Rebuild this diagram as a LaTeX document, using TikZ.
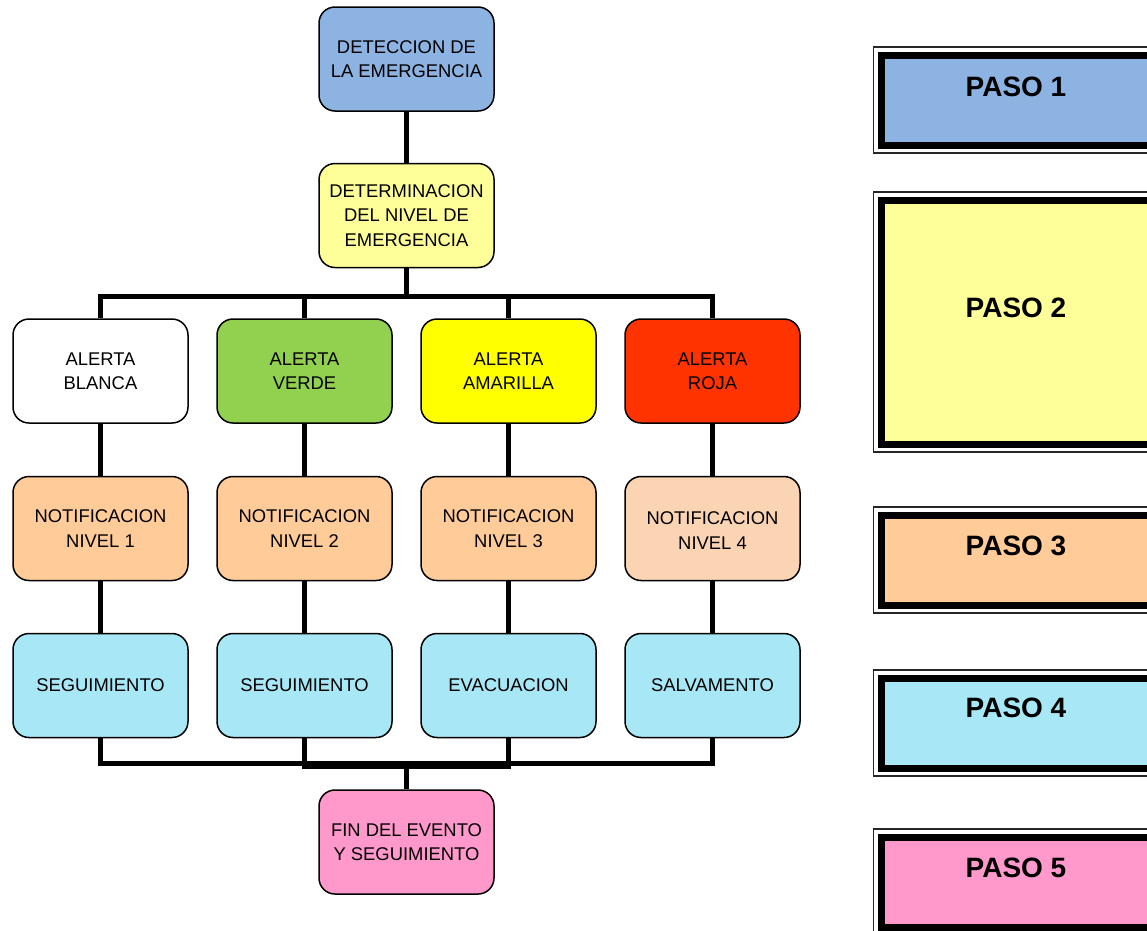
\documentclass[tikz,border=0pt]{standalone}
\usepackage{fontspec}
\setmainfont{Liberation Sans}
\definecolor{cDet}{HTML}{8DB3E2}
\definecolor{cNiv}{HTML}{FFFF99}
\definecolor{cVer}{HTML}{92D050}
\definecolor{cAma}{HTML}{FFFF00}
\definecolor{cRoj}{HTML}{FF3300}
\definecolor{cNot}{HTML}{FFCC99}
\definecolor{cNotb}{HTML}{FBD4B4}
\definecolor{cSeg}{HTML}{A8E8F6}
\definecolor{cFin}{HTML}{FF99CC}
\begin{document}
\begin{tikzpicture}[x=1pt,y=-1pt,
  box/.style={draw=black, line width=1.5pt, rounded corners=16pt,
    minimum width=175pt, minimum height=104pt, inner sep=0pt,
    align=center, font=\fontsize{18.4}{24.5}\selectfont},
  conn/.style={draw=black, line width=5pt},
  pasoframe/.style={draw=black!85, line width=1.2pt},
  pasofill/.style={draw=black, line width=7pt},
  pasotext/.style={font=\fontsize{28}{32}\selectfont\bfseries, inner sep=0pt}]
\useasboundingbox (0,0) rectangle (1147,930);
\clip (0,0) rectangle (1147,930);

% flowchart nodes
\node[box, fill=cDet] (det) at (406.5,59) {DETECCION DE\\LA EMERGENCIA};
\node[box, fill=cNiv] (niv) at (406.5,215.5) {DETERMINACION\\DEL NIVEL DE\\EMERGENCIA};

\node[box, fill=white] (a1) at (100.5,371) {ALERTA\\BLANCA};
\node[box, fill=cVer]  (a2) at (304.5,371) {ALERTA\\VERDE};
\node[box, fill=cAma]  (a3) at (508.5,371) {ALERTA\\AMARILLA};
\node[box, fill=cRoj]  (a4) at (712.5,371) {ALERTA\\ROJA};

\node[box, fill=cNot]  (n1) at (100.5,528.5) {NOTIFICACION\\NIVEL 1};
\node[box, fill=cNot]  (n2) at (304.5,528.5) {NOTIFICACION\\NIVEL 2};
\node[box, fill=cNot]  (n3) at (508.5,528.5) {NOTIFICACION\\NIVEL 3};
\node[box, fill=cNotb] (n4) at (712.5,528.5) {\raisebox{-4pt}[\height][\depth]{\begin{tabular}{@{}c@{}}NOTIFICACION\\[0.5pt]NIVEL 4\end{tabular}}};

\node[box, fill=cSeg]  (s1) at (100.5,685.5) {SEGUIMIENTO};
\node[box, fill=cSeg]  (s2) at (304.5,685.5) {SEGUIMIENTO};
\node[box, fill=cSeg]  (s3) at (508.5,685.5) {EVACUACION};
\node[box, fill=cSeg]  (s4) at (712.5,685.5) {SALVAMENTO};

\node[box, fill=cFin]  (fin) at (406.5,842) {FIN DEL EVENTO\\Y SEGUIMIENTO};

% connectors
\coordinate (split) at (406.5,296);
\coordinate (joinA) at (406.5,763.5);
\coordinate (joinB) at (406.5,766);

\draw[conn] (det) -- (niv);
\draw[conn] (niv.south) -- (split) -| (a1.north);
\draw[conn] (split) -| (a2.north);
\draw[conn] (split) -| (a3.north);
\draw[conn] (split) -| (a4.north);
\draw[conn] (a1) -- (n1);
\draw[conn] (a2) -- (n2);
\draw[conn] (a3) -- (n3);
\draw[conn] (a4) -- (n4);
\draw[conn] (n1) -- (s1);
\draw[conn] (n2) -- (s2);
\draw[conn] (n3) -- (s3);
\draw[conn] (n4) -- (s4);
\draw[conn] (s1.south) |- (joinA);
\draw[conn] (s4.south) |- (joinA);
\draw[conn] (s2.south) |- (joinB);
\draw[conn] (s3.south) |- (joinB);
\draw[conn] (joinA) -- (fin.north);

% legend boxes (PASO)
\foreach \t/\b/\c in {47/153/cDet, 192/452/cNiv, 507/613/cNot, 670/776/cSeg, 829/935/cFin}{
  \draw[pasoframe] (873.5,\t) rectangle (1200,\b);
  \draw[pasofill, fill=\c] (881.5,\t+8.5) rectangle (1190,\b-8);
}
\node[pasotext] (p1) at (1016,87) {PASO 1};
\node[pasotext] (p2) at (1016,308) {PASO 2};
\node[pasotext] (p3) at (1016,546) {PASO 3};
\node[pasotext] (p4) at (1016,708) {PASO 4};
\node[pasotext] (p5) at (1016,868) {PASO 5};
\end{tikzpicture}
\end{document}
